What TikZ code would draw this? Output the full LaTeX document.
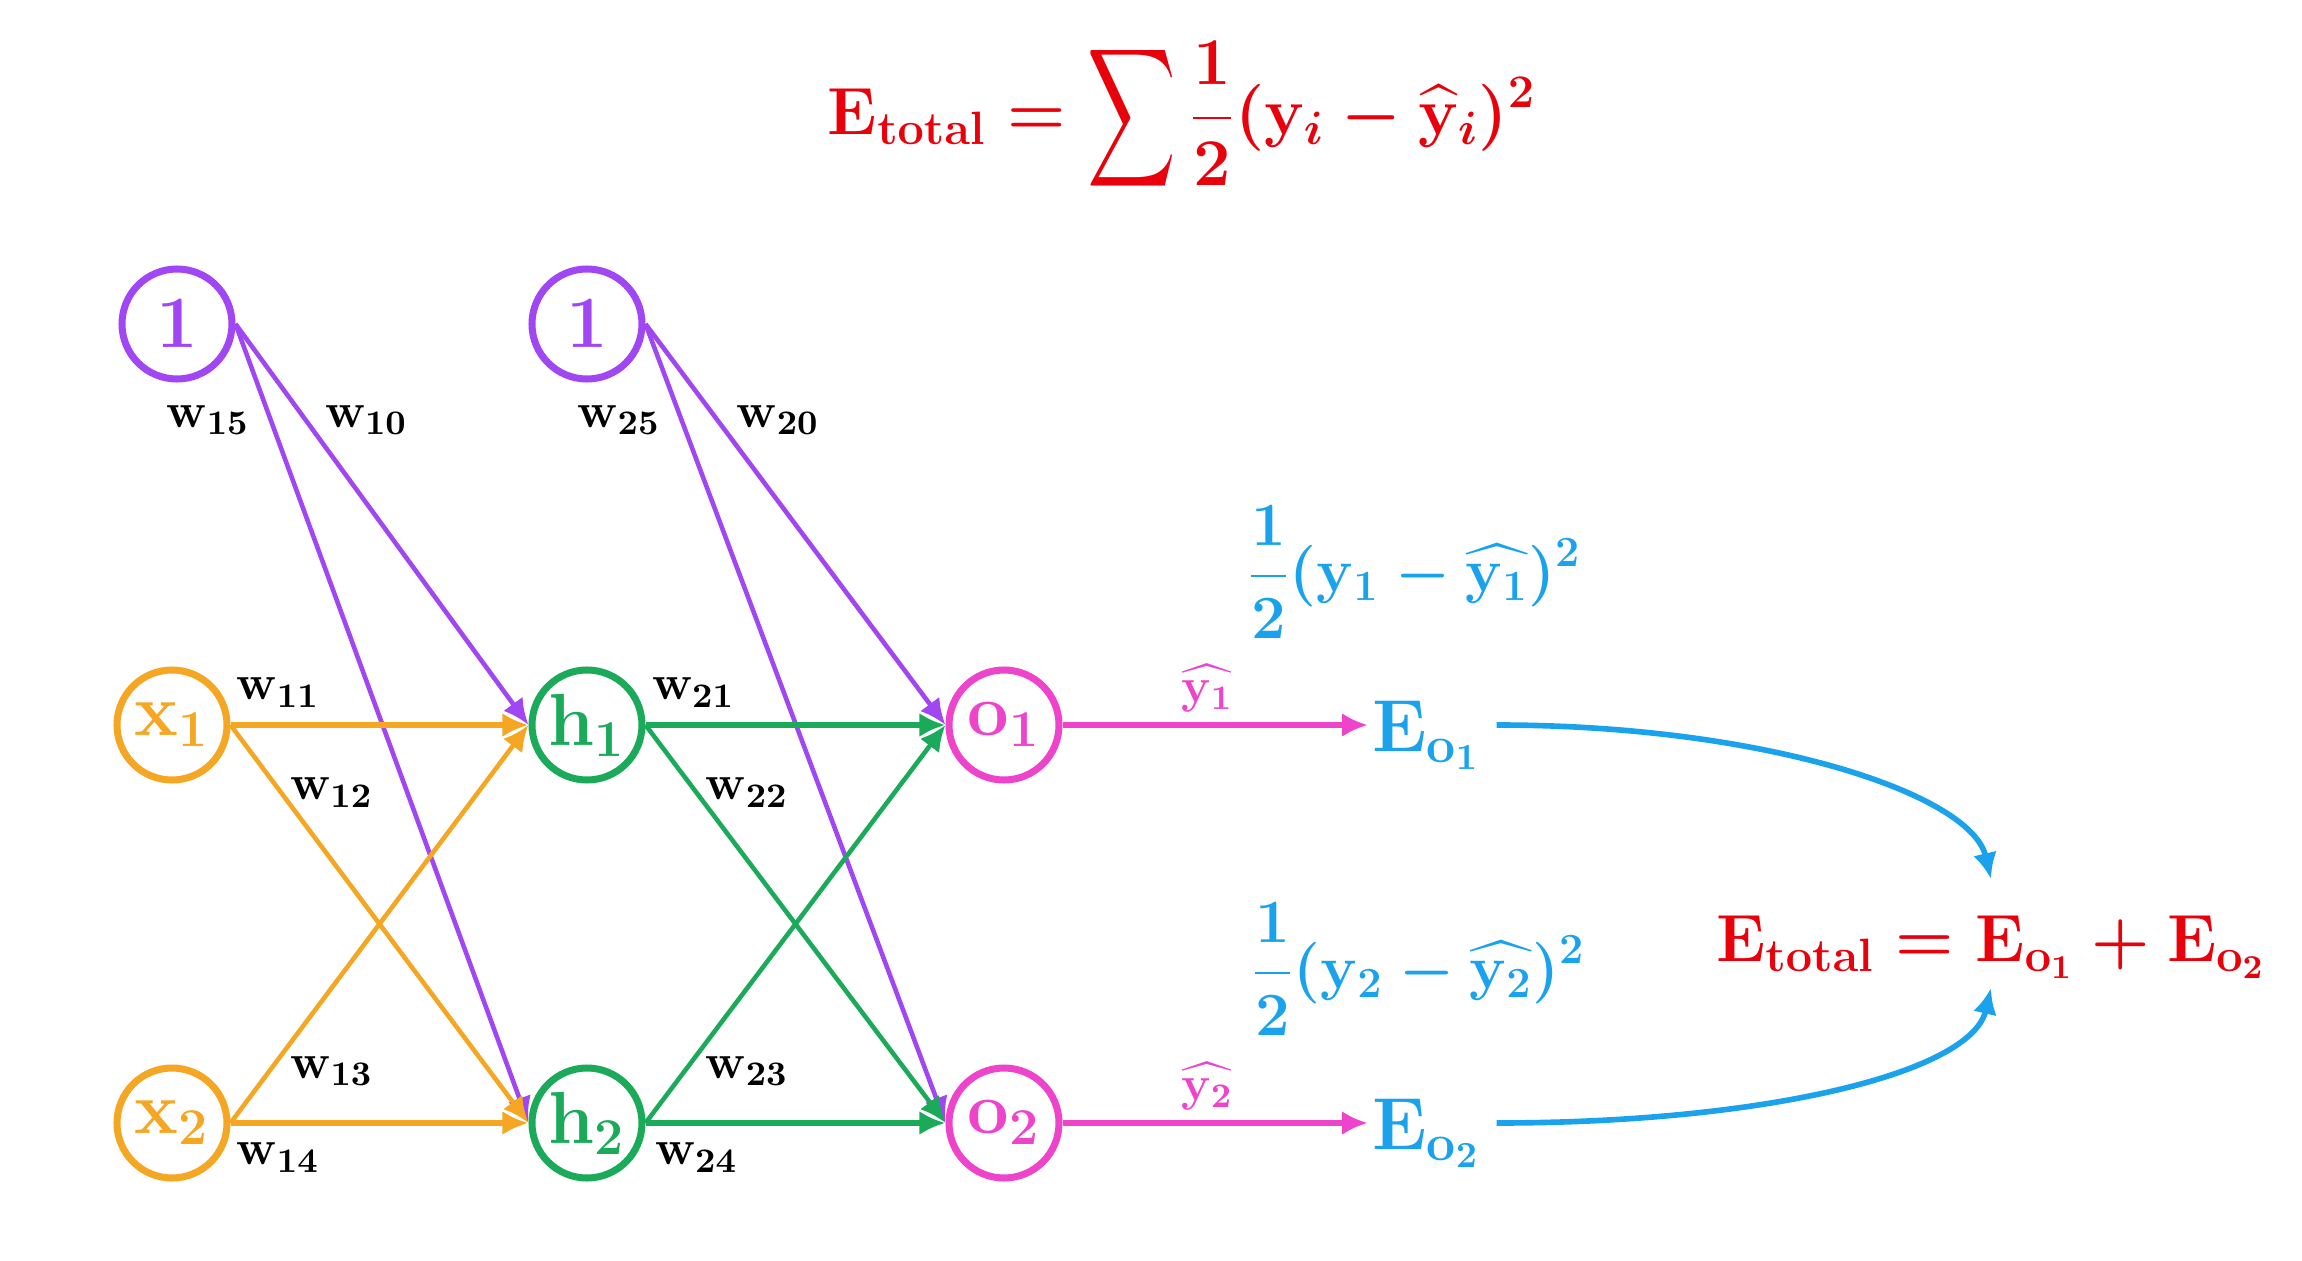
\RequirePackage{fix-cm}
\documentclass[tikz,border=0pt]{standalone}
\DeclareFontShape{OMX}{cmex}{m}{n}{<-> cmex10}{}
\usetikzlibrary{arrows.meta, positioning, calc}
\definecolor{moradoBias}{HTML}{A046F2}
\definecolor{naranjaEntrada}{HTML}{F5A623}
\definecolor{verdeOculta}{HTML}{1BAA5A}
\definecolor{rosaSalida}{HTML}{EE44CC}
\definecolor{azulError}{HTML}{1AA3EC}
\definecolor{rojoTotal}{HTML}{E8000B}
\newcommand{\sumaAlta}{\mathop{\vcenter{\hbox{\scalebox{0.92}[1.45]{$\displaystyle\sum$}}}}}
\tikzset{
  neuronaBase/.style={
    circle, line width=2pt, minimum size=1.1cm, inner sep=0pt,
    font=\fontsize{21}{24}\selectfont\boldmath
  },
  neuronaBias/.style={neuronaBase, draw=moradoBias, text=moradoBias},
  neuronaEntrada/.style={neuronaBase, draw=naranjaEntrada, text=naranjaEntrada},
  neuronaOculta/.style={neuronaBase, draw=verdeOculta, text=verdeOculta},
  neuronaSalida/.style={neuronaBase, draw=rosaSalida, text=rosaSalida},
  flechaBase/.style={-{Latex[length=2.6mm, width=2.4mm]}, line width=1.3pt},
  flechaMorada/.style={flechaBase, moradoBias},
  flechaNaranja/.style={flechaBase, naranjaEntrada},
  flechaVerde/.style={flechaBase, verdeOculta},
  flechaRosa/.style={flechaBase, rosaSalida, line width=1.6pt},
  flechaAzul/.style={flechaBase, azulError, line width=1.6pt},
  etiquetaPeso/.style={font=\fontsize{14}{16}\selectfont\boldmath, text=black, inner sep=2pt},
  etiquetaRosa/.style={font=\fontsize{14}{16}\selectfont\boldmath, text=rosaSalida, inner sep=3pt},
  formulaAzul/.style={font=\fontsize{17.5}{20}\selectfont\boldmath, text=azulError, inner sep=1pt},
  formulaRoja/.style={font=\fontsize{19}{23}\selectfont\boldmath, text=rojoTotal, inner sep=1pt},
}

\begin{document}
\begin{tikzpicture}
  \useasboundingbox (0,0) rectangle (23.02,12.60);

  % formula general
  \node[formulaRoja] (etotal) at (11.82,11.42)
    {$\displaystyle \mathbf{E}_{\mathbf{total}} = \sumaAlta \frac{1}{2}(\mathbf{y}_i - \widehat{\mathbf{y}}_i)^2$};

  % neuronas
  \node[neuronaBias] (b1) at (1.77,9.36) {$1$};
  \node[neuronaBias] (b2) at (5.87,9.36) {$1$};
  \node[neuronaEntrada] (x1) at (1.72,5.35) {$\mathbf{x}_1$};
  \node[neuronaEntrada] (x2) at (1.72,1.37) {$\mathbf{x}_2$};
  \node[neuronaOculta] (h1) at (5.87,5.35) {$\mathbf{h}_1$};
  \node[neuronaOculta] (h2) at (5.87,1.37) {$\mathbf{h}_2$};
  \node[neuronaSalida] (o1) at (10.04,5.35) {$\mathbf{o}_1$};
  \node[neuronaSalida] (o2) at (10.04,1.37) {$\mathbf{o}_2$};

  % errores
  \node[formulaRoja, font=\fontsize{21}{24}\selectfont\boldmath, text=azulError, anchor=base west] (eo1) at (13.68,5.09) {$\mathbf{E}_{\mathbf{o}_1}$};
  \node[formulaRoja, font=\fontsize{21}{24}\selectfont\boldmath, text=azulError, anchor=base west] (eo2) at (13.68,1.11) {$\mathbf{E}_{\mathbf{o}_2}$};
  \node[formulaAzul] (f1) at (14.14,6.88) {$\displaystyle \frac{1}{2}(\mathbf{y}_1 - \widehat{\mathbf{y}_1})^2$};
  \node[formulaAzul] (f2) at (14.18,2.91) {$\displaystyle \frac{1}{2}(\mathbf{y}_2 - \widehat{\mathbf{y}_2})^2$};
  \node[formulaRoja, anchor=base] (etot) at (19.91,2.99)
    {$\mathbf{E}_{\mathbf{total}} = \mathbf{E}_{\mathbf{o}_1} + \mathbf{E}_{\mathbf{o}_2}$};

  % pesos del bias
  \draw[flechaMorada] (b1.east) -- node[etiquetaPeso, pos=0.12, left=0.12cm] (w15) {$\mathbf{w}_{15}$} (h2.west);
  \draw[flechaMorada] (b1.east) -- node[etiquetaPeso, pos=0.24, right=0.1cm] (w10) {$\mathbf{w}_{10}$} (h1.west);
  \draw[flechaMorada] (b2.east) -- node[etiquetaPeso, pos=0.12, left=0.12cm] (w25) {$\mathbf{w}_{25}$} (o2.west);
  \draw[flechaMorada] (b2.east) -- node[etiquetaPeso, pos=0.24, right=0.1cm] (w20) {$\mathbf{w}_{20}$} (o1.west);

  % capa de entrada
  \draw[flechaNaranja, line width=1.6pt] (x1.east) -- node[etiquetaPeso, pos=0.16, above=0.08cm] (w11) {$\mathbf{w}_{11}$} (h1.west);
  \draw[flechaNaranja] (x1.east) -- node[etiquetaPeso, pos=0.17, right=0cm] (w12) {$\mathbf{w}_{12}$} (h2.west);
  \draw[flechaNaranja] (x2.east) -- node[etiquetaPeso, pos=0.13, right=0.12cm] (w13) {$\mathbf{w}_{13}$} (h1.west);
  \draw[flechaNaranja, line width=1.6pt] (x2.east) -- node[etiquetaPeso, pos=0.16, below=0.1cm] (w14) {$\mathbf{w}_{14}$} (h2.west);

  % capa oculta
  \draw[flechaVerde, line width=1.6pt] (h1.east) -- node[etiquetaPeso, pos=0.16, above=0.08cm] (w21) {$\mathbf{w}_{21}$} (o1.west);
  \draw[flechaVerde] (h1.east) -- node[etiquetaPeso, pos=0.17, right=0cm] (w22) {$\mathbf{w}_{22}$} (o2.west);
  \draw[flechaVerde] (h2.east) -- node[etiquetaPeso, pos=0.13, right=0.12cm] (w23) {$\mathbf{w}_{23}$} (o1.west);
  \draw[flechaVerde, line width=1.6pt] (h2.east) -- node[etiquetaPeso, pos=0.17, below=0.1cm] (w24) {$\mathbf{w}_{24}$} (o2.west);

  % salidas
  \draw[flechaRosa] (o1.east) -- node[etiquetaRosa, above, xshift=-0.08cm] (yh1) {$\widehat{\mathbf{y}_1}$} (o1 -| eo1.west);
  \draw[flechaRosa] (o2.east) -- node[etiquetaRosa, above, xshift=-0.08cm] (yh2) {$\widehat{\mathbf{y}_2}$} (o2 -| eo2.west);

  % suma de errores
  \draw[flechaAzul, shorten <=0.12cm] (eo1.east |- o1) .. controls +(2.8,0) and +(-0.2,0.85) .. ([yshift=0.82cm]etot.base);
  \draw[flechaAzul, shorten <=0.12cm] (eo2.east |- o2) .. controls +(2.8,0) and +(-0.2,-0.85) .. ([yshift=-0.27cm]etot.base);
\end{tikzpicture}
\end{document}
